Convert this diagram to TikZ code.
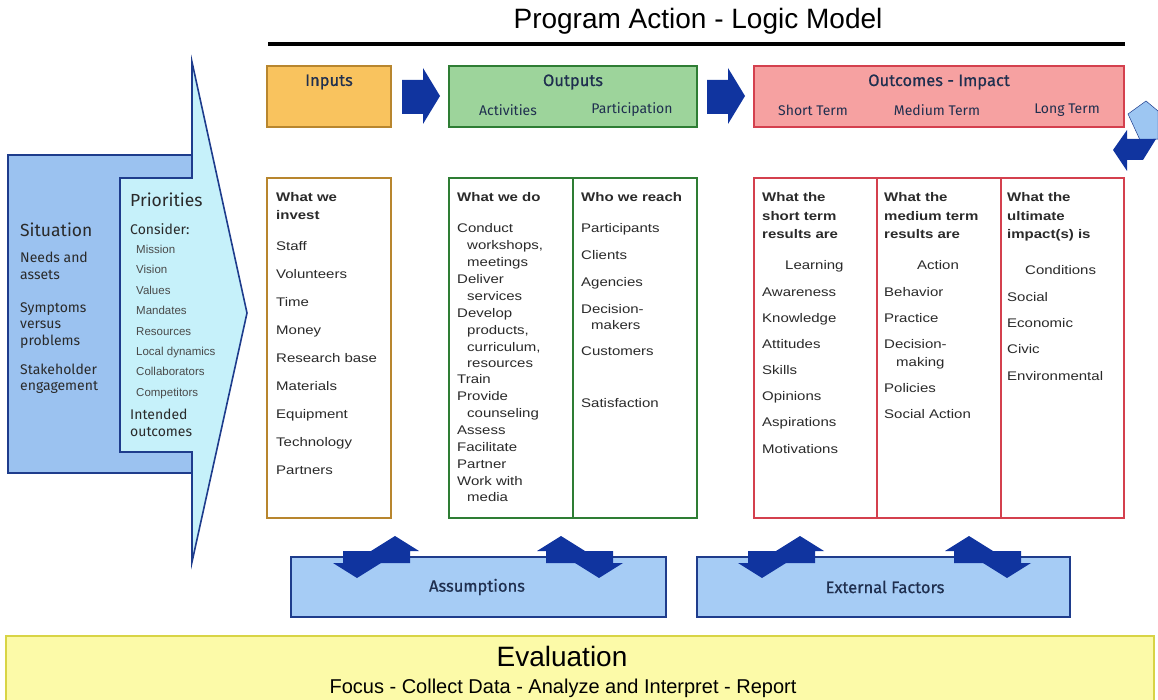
\documentclass[tikz,border=0pt]{standalone}
\usepackage{fontspec}
\setmainfont[FakeStretch=1.2]{Liberation Sans}
\newfontfamily\plainfont{Liberation Sans}
\newfontfamily\hdfont{Fira Sans}
\newfontfamily\hdboldfont[FakeBold=0.6]{Fira Sans}
\usetikzlibrary{positioning,calc}

\definecolor{arrblue}{HTML}{10349F}
\definecolor{boxblue}{HTML}{1E3C8C}
\definecolor{sitfill}{HTML}{9BC2F0}
\definecolor{prifill}{HTML}{C6F1FA}
\definecolor{factfill}{HTML}{A6CCF5}
\definecolor{fbfill}{HTML}{9DC6F2}
\definecolor{infill}{HTML}{F9C35E}
\definecolor{inedge}{HTML}{B8862E}
\definecolor{outfill}{HTML}{9DD49B}
\definecolor{outedge}{HTML}{2E7D34}
\definecolor{ocfill}{HTML}{F6A1A1}
\definecolor{ocedge}{HTML}{D4404E}
\definecolor{evalfill}{HTML}{FCFAA8}
\definecolor{evaledge}{HTML}{D8D445}
\definecolor{darktext}{HTML}{2A2A2A}
\definecolor{labtext}{HTML}{1F2F4F}

\begin{document}
\begin{tikzpicture}[
  x=1pt, y=-1pt,
  hdbox/.style={draw, line width=1.6pt, minimum height=61pt, inner sep=0pt},
  colbox/.style={draw, line width=1.6pt, fill=white, minimum height=340pt, inner sep=0pt},
  hdlab/.style={inner sep=0pt, text=labtext, font=\hdboldfont\fontsize{16.5}{18}\selectfont},
  sublab/.style={inner sep=0pt, text=labtext, font=\hdfont\fontsize{14}{16}\selectfont},
  coltxt/.style={anchor=north west, inner sep=0pt, align=left, text=darktext,
                 font=\fontsize{12.5}{17}\selectfont},
  sittxt/.style={anchor=north west, inner sep=0pt, align=left, text=darktext,
                 font=\hdfont\fontsize{14}{16.7}\selectfont},
  factbox/.style={draw=boxblue, line width=1.6pt, fill=factfill, minimum height=60pt},
  fwdarr/.pic={\fill[arrblue] (0,0) -- (21,0) -- (21,-12) -- (38,16) -- (21,44)
                -- (21,34) -- (0,34) -- cycle;},
  updown/.pic={\fill[arrblue] (-5,-6) -- (19,-21) -- (43,-6) -- (34,-6) -- (34,6)
                -- (-1,6) -- (-1,-6) -- cycle;
               \fill[arrblue] (-43,6) -- (-19,21) -- (5,6) -- (3,6) -- (3,-6)
                -- (-33,-6) -- (-33,6) -- cycle;}
]
\useasboundingbox (0,0) rectangle (1158,700);

% ---------------- title ----------------
\node[inner sep=0pt, font=\plainfont\fontsize{28}{30}\selectfont] (title) at (698,21)
  {Program Action - Logic Model};
\draw[line width=4pt] (268,44) coordinate (rulel) -- (1125,44) coordinate (ruler);

% ---------------- situation + priorities ----------------
\node[draw=boxblue, fill=sitfill, line width=1.6pt, minimum width=184pt,
      minimum height=318pt] (sitbox) at (100,314) {};
\draw[boxblue, line width=1.6pt, fill=prifill] (120,178) -- (192,178) -- (192,62)
  -- (247,313) -- (192,562) -- (192,452) -- (120,452) -- cycle;
\node[anchor=west, inner sep=0pt, text=darktext, font=\hdfont\fontsize{17.5}{19}\selectfont]
  (sitlab) at (20,230) {Situation};
\node[sittxt] (sititems) at (20,252)
  {Needs and\\assets\\[16pt]Symptoms\\versus\\problems\\[12pt]Stakeholder\\engagement};
\node[anchor=west, inner sep=0pt, text=darktext, font=\hdfont\fontsize{17.5}{19}\selectfont]
  (prilab) at (130,200) {Priorities};
\node[anchor=west, inner sep=0pt, text=darktext, font=\hdfont\fontsize{14}{15}\selectfont]
  (conslab) at (130,229) {Consider:};
\node[anchor=north west, inner sep=0pt, align=left, text=darktext!85,
      font=\plainfont\fontsize{11.5}{20.4}\selectfont] (priitems) at (136,245)
  {Mission\\Vision\\Values\\Mandates\\Resources\\Local dynamics\\Collaborators\\Competitors};
\node[sittxt] (intended) at (130,409) {Intended\\outcomes};

% ---------------- header row ----------------
\node[hdbox, fill=infill, draw=inedge, minimum width=124pt] (inhead) at (329,96.5) {};
\node[hdbox, fill=outfill, draw=outedge, minimum width=248pt] (outhead) at (573,96.5) {};
\node[hdbox, fill=ocfill, draw=ocedge, minimum width=370pt] (ochead) at (939,96.5) {};
\pic at (402,80) {fwdarr};
\pic at (707,80) {fwdarr};

\node[hdlab] (inlab) at (329,82) {Inputs};
\node[hdlab] (outlab) at (573,82) {Outputs};
\node[sublab] (actlab) at (508,110) {Activities};
\node[sublab] (partlab) at (632,110) {Participation};
\node[hdlab] (oclab) at (939,82) {Outcomes - Impact};
\node[sublab] (shortlab) at (813,110) {Short Term};
\node[sublab] (medlab) at (937,110) {Medium Term};
\node[sublab] (longlab) at (1067,110) {Long Term};

% feedback arrow
\filldraw[fill=fbfill, draw=boxblue, line width=0.5pt] (1128,114) -- (1146,101)
  -- (1158,111) -- (1158,139) -- (1140,140) -- cycle;
\fill[arrblue] (1113,150) -- (1127,130) -- (1127,139) -- (1156,139) -- (1143,160)
  -- (1127,160) -- (1127,171) -- cycle;

% ---------------- columns ----------------
\node[colbox, draw=inedge, minimum width=124pt] (incol) at (329,348) {};
\node[colbox, draw=outedge, minimum width=248pt] (outcol) at (573,348) {};
\node[colbox, draw=ocedge, minimum width=370pt] (occol) at (939,348) {};
\draw[outedge, line width=1.6pt] (outcol.north) -- (outcol.south);
\draw[ocedge, line width=1.6pt] ($(occol.north west)!1/3!(occol.north east)$)
  -- ($(occol.south west)!1/3!(occol.south east)$);
\draw[ocedge, line width=1.6pt] ($(occol.north west)!2/3!(occol.north east)$)
  -- ($(occol.south west)!2/3!(occol.south east)$);

\node[coltxt] (intxt) at (276,192.5)
  {\textbf{What we}\\[1pt]\textbf{invest}\\[14pt]Staff\\[11pt]Volunteers\\[11pt]Time\\[11pt]%
   Money\\[11pt]Research base\\[11pt]Materials\\[11pt]Equipment\\[11pt]Technology\\[11pt]Partners};

\node[coltxt] (dotxt) at (457,192.5)
  {\textbf{What we do}\\[14pt]Conduct\\\hspace*{10pt}workshops,\\\hspace*{10pt}meetings\\%
   Deliver\\\hspace*{10pt}services\\Develop\\\hspace*{10pt}products,\\%
   \hspace*{10pt}curriculum,\\[-1pt]\hspace*{10pt}resources\\[-1pt]Train\\Provide\\%
   \hspace*{10pt}counseling\\Assess\\Facilitate\\Partner\\Work with\\[-1pt]\hspace*{10pt}media};

\node[coltxt] (reachtxt) at (581,192.5)
  {\textbf{Who we reach}\\[14pt]Participants\\[10pt]Clients\\[10pt]Agencies\\[10pt]%
   Decision-\\[-1pt]\hspace*{10pt}makers\\[9pt]Customers\\[35pt]Satisfaction};

\node[coltxt] (shorttxt) at (762,192.5)
  {\textbf{What the}\\[1.5pt]\textbf{short term}\\[1.5pt]\textbf{results are}\\[14pt]%
   \hspace*{23pt}Learning\\[10pt]Awareness\\[9pt]Knowledge\\[9pt]Attitudes\\[9pt]Skills\\[9pt]%
   Opinions\\[9pt]Aspirations\\[10pt]Motivations};

\node[coltxt] (medtxt) at (884,192.5)
  {\textbf{What the}\\[1.5pt]\textbf{medium term}\\[1.5pt]\textbf{results are}\\[14pt]%
   \hspace*{33pt}Action\\[10pt]Behavior\\[9pt]Practice\\[9pt]Decision-\\[1pt]%
   \hspace*{12pt}making\\[9pt]Policies\\[9pt]Social Action};

\node[coltxt] (longtxt) at (1007,192.5)
  {\textbf{What the}\\[1.5pt]\textbf{ultimate}\\[1.5pt]\textbf{impact(s) is}\\[19pt]%
   \hspace*{18pt}Conditions\\[10pt]Social\\[9pt]Economic\\[9pt]Civic\\[10pt]Environmental};

% ---------------- assumptions / external factors ----------------
\node[factbox, minimum width=375pt] (assume) at (478.5,587) {};
\node[factbox, minimum width=373pt] (extern) at (883.5,587) {};
\node[hdlab] (assumelab) at (477,587) {Assumptions};
\node[hdlab] (externlab) at (885,587) {External Factors};
\pic at (376,557) {updown};
\pic[xscale=-1] at (580,557) {updown};
\pic at (781,557) {updown};
\pic[xscale=-1] at (988,557) {updown};

% ---------------- evaluation ----------------
\node[draw=evaledge, fill=evalfill, line width=1.6pt, minimum width=1148pt,
      minimum height=70pt, anchor=north west] (evalbox) at (5,635) {};
\node[inner sep=0pt, font=\plainfont\fontsize{28}{30}\selectfont] (evallab) at (562,656)
  {Evaluation};
\node[inner sep=0pt, font=\plainfont\fontsize{20}{22}\selectfont] (evalsteps) at (563,688)
  {Focus - Collect Data - Analyze and Interpret - Report};

\end{tikzpicture}
\end{document}
